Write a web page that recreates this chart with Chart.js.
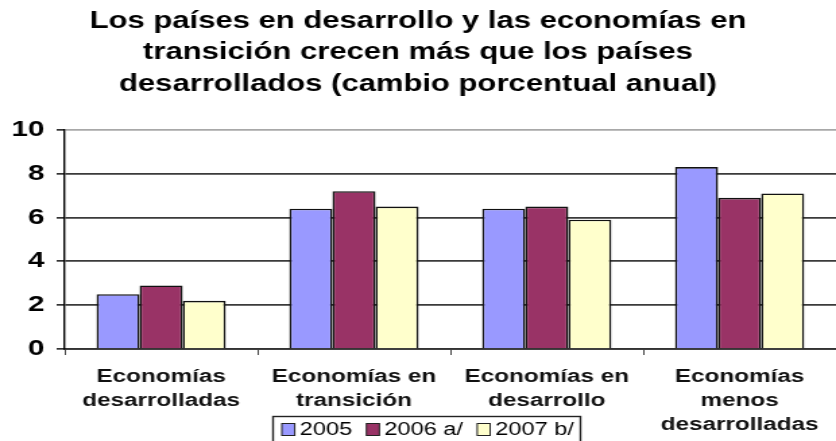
<!DOCTYPE html>
<html>
<head>
<meta charset="utf-8">
<script src="https://cdn.jsdelivr.net/npm/chart.js@4.4.0/dist/chart.umd.min.js"></script>
<style>
  body { margin: 0; background: #fff; overflow: hidden; }
  /* the original picture is stretched sideways, so the chart is drawn narrower and widened */
  #wrap { width: 620px; height: 441px; transform: scaleX(1.3484); transform-origin: 0 0; }
</style>
</head>
<body>
<div id="wrap"><canvas id="myChart"></canvas></div>
<script>
// data
const categories = [
  ['Economías', 'desarrolladas'],
  ['Economías en', 'transición'],
  ['Economías en', 'desarrollo'],
  ['Economías', 'menos', 'desarrolladas']
];
const seriesNames = ['2005', '2006 a/', '2007 b/'];
const values2005 = [2.5, 6.4, 6.4, 8.3];
const values2006 = [2.9, 7.2, 6.5, 6.9];
const values2007 = [2.2, 6.5, 5.9, 7.1];
const yTicks = [0, 2, 4, 6, 8, 10];

const colors = ['#9999FF', '#993366', '#FFFFCC'];
const fontFamily = '"Liberation Sans", Arial, sans-serif';

// legend box drawn by hand so it can sit over the axis labels like the original
const boxLegend = {
  id: 'boxLegend',
  afterDraw(chart) {
    const ctx = chart.ctx;
    ctx.save();
    ctx.strokeStyle = '#222';
    ctx.lineWidth = 1.4;
    ctx.strokeRect(202.5, 416.5, 228, 30);
    ctx.font = '17.5px ' + fontFamily;
    ctx.textBaseline = 'middle';
    let x = 209;
    chart.data.datasets.forEach(ds => {
      ctx.fillStyle = ds.backgroundColor;
      ctx.fillRect(x, 423, 9.6, 13);
      ctx.strokeStyle = '#222';
      ctx.lineWidth = 1;
      ctx.strokeRect(x, 423.5, 9.6, 12);
      ctx.fillStyle = '#000';
      ctx.fillText(ds.label, x + 13.3, 430);
      x += 13.3 + ctx.measureText(ds.label).width + 10.5;
    });
    ctx.restore();
  }
};

const myChart = document.getElementById('myChart');

let barChart = new Chart(myChart, {
  type: 'bar',
  data: {
    labels: categories,
    datasets: [
      { label: seriesNames[0], data: values2005, backgroundColor: colors[0] },
      { label: seriesNames[1], data: values2006, backgroundColor: colors[1] },
      { label: seriesNames[2], data: values2007, backgroundColor: colors[2] }
    ]
  },
  options: {
    responsive: true,
    maintainAspectRatio: false,
    animation: false,
    layout: { padding: 0 },
    datasets: {
      bar: {
        borderColor: '#111',
        borderWidth: 1.6,
        categoryPercentage: 0.67,
        barPercentage: 1
      }
    },
    plugins: {
      legend: { display: false },
      tooltip: { enabled: false },
      title: {
        display: true,
        text: [
          'Los países en desarrollo y las economías en',
          'transición crecen más que los países',
          'desarrollados (cambio porcentual anual)'
        ],
        color: '#000',
        font: { family: fontFamily, size: 23, weight: 'bold', lineHeight: 1.36 },
        padding: { top: 6, bottom: 30 }
      }
    },
    scales: {
      x: {
        offset: true,
        afterFit: s => { s.height = 92; },
        grid: {
          offset: true,
          drawOnChartArea: false,
          drawTicks: true,
          tickLength: 6,
          tickColor: '#444'
        },
        border: { display: true, color: '#333', width: 1.8 },
        ticks: {
          color: '#111',
          padding: 10,
          maxRotation: 0,
          autoSkip: false,
          font: { family: fontFamily, size: 18, weight: 'bold', lineHeight: 1.33 }
        }
      },
      y: {
        min: 0,
        max: 10,
        afterFit: s => { s.width = 48; },
        afterBuildTicks: s => { s.ticks = yTicks.map(v => ({ value: v })); },
        grid: {
          color: ctx => ctx.tick && ctx.tick.value === 10 ? '#a8a8a8' : '#3a3a3a',
          lineWidth: 1.7,
          tickColor: '#333',
          tickLength: 6,
          tickBorderDash: [],
          borderDash: [4.5, 3.8]
        },
        border: { display: true, color: '#000', width: 1.4 },
        ticks: {
          color: '#000',
          padding: 9,
          font: { family: fontFamily, size: 22, weight: 'bold' }
        }
      }
    }
  },
  plugins: [boxLegend]
});
</script>
</body>
</html>
